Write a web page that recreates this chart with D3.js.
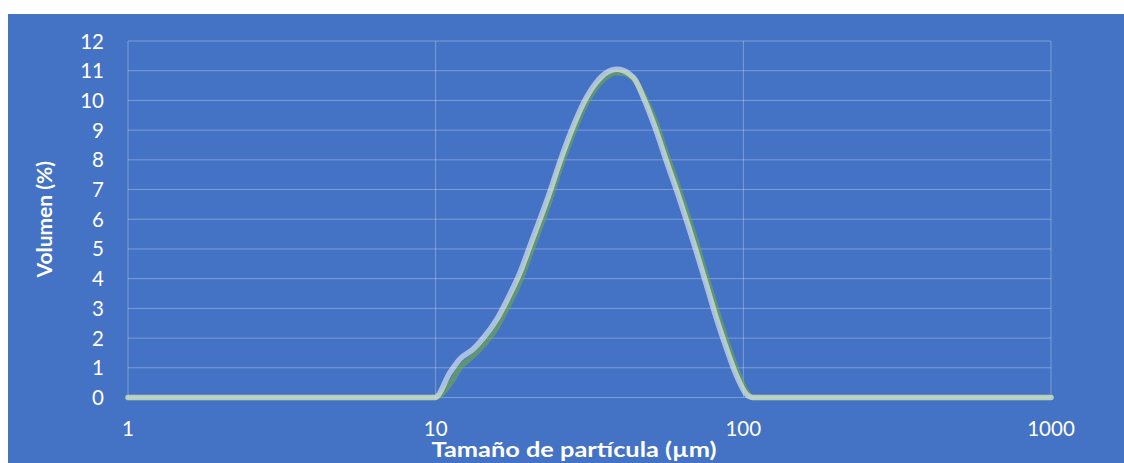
<!DOCTYPE html>
<html>
<head>
<meta charset="utf-8">
<script src="https://cdn.jsdelivr.net/npm/d3@7"></script>
<style>
  html, body { margin: 0; padding: 0; background: #fff; }
  svg { display: block; }
</style>
</head>
<body>
<svg width="1124" height="463"></svg>
<script>
// particle size (µm) and volume (%)
const sizes = [1, 5, 9.95, 11.13, 12.0, 13.25, 14.28, 15.79, 17.44, 18.79, 20.25, 23.52, 25.35, 27.67, 30.18,
    33.2, 34.45, 35.77, 37.13, 38.83, 40.62, 42.48, 44.43, 47.3, 51.6, 56.3, 61.4, 66.1, 70.5, 76.0, 81.9,
    88.3, 95.1, 102.5, 107.4, 200, 1000];
const lightSeries = [0, 0, 0, 0.84, 1.3, 1.63, 2.0, 2.63, 3.48, 4.2, 5.1, 6.93, 7.94, 9.0, 9.9,
    10.59, 10.78, 10.92, 11.01, 11.05, 11.01, 10.9, 10.71, 10.1, 9.1, 7.94, 6.82, 5.8, 4.88, 3.76, 2.64,
    1.63, 0.73, 0.1, 0, 0, 0];
const greenSeries = [0, 0, 0, 0.45, 1.0, 1.4, 1.75, 2.35, 3.2, 3.9, 4.8, 6.65, 7.7, 8.75, 9.7,
    10.42, 10.62, 10.78, 10.88, 10.93, 10.92, 10.84, 10.68, 10.2, 9.35, 8.2, 7.1, 6.1, 5.2, 4.05, 2.95,
    1.9, 0.95, 0.2, 0, 0, 0];
const xTicks = [1, 10, 100, 1000];
const yTicks = d3.range(0, 13);

const font = "Lato, Calibri, Carlito, 'Open Sans', sans-serif";
const svg = d3.select("svg");

svg.append("rect")
    .attr("x", 8).attr("y", 14)
    .attr("width", 1124 - 8).attr("height", 463 - 14)
    .attr("fill", "#4472C4");

const plotLeft = 128, plotRight = 1051, plotTop = 41, plotBottom = 397.5;

const x = d3.scaleLog().domain([1, 1000]).range([plotLeft, plotRight]);
const y = d3.scaleLinear().domain([0, 12]).range([plotBottom, plotTop]);

const grid = svg.append("g");
grid.selectAll(".hgrid")
    .data(yTicks)
    .enter().append("line")
    .attr("x1", plotLeft).attr("x2", plotRight)
    .attr("y1", d => y(d)).attr("y2", d => y(d))
    .attr("stroke", "#ffffff").attr("stroke-opacity", 0.3).attr("stroke-width", 1);
grid.selectAll(".vgrid")
    .data(xTicks)
    .enter().append("line")
    .attr("x1", d => x(d)).attr("x2", d => x(d))
    .attr("y1", plotTop).attr("y2", plotBottom)
    .attr("stroke", "#ffffff").attr("stroke-opacity", 0.3).attr("stroke-width", 1);

const line = (vals) => d3.line()
    .x((d, i) => x(sizes[i]))
    .y(d => y(d))
    .curve(d3.curveMonotoneX)(vals);

svg.append("path")
    .attr("d", line(greenSeries))
    .attr("fill", "none")
    .attr("stroke", "#70AD47").attr("stroke-opacity", 0.6)
    .attr("stroke-width", 5.5)
    .attr("stroke-linejoin", "round").attr("stroke-linecap", "round");

svg.append("path")
    .attr("d", line(lightSeries))
    .attr("fill", "none")
    .attr("stroke", "#ffffff").attr("stroke-opacity", 0.55)
    .attr("stroke-width", 5.5)
    .attr("stroke-linejoin", "round").attr("stroke-linecap", "round");

// tick labels
svg.append("g").selectAll("text")
    .data(yTicks)
    .enter().append("text")
    .attr("x", 104).attr("y", d => y(d) + 7.5)
    .attr("text-anchor", "end")
    .attr("fill", "#fff")
    .attr("font-family", font).attr("font-size", 20.5)
    .text(d => d);

svg.append("g").selectAll("text")
    .data(xTicks)
    .enter().append("text")
    .attr("x", d => x(d)).attr("y", 436)
    .attr("text-anchor", "middle")
    .attr("fill", "#fff")
    .attr("font-family", font).attr("font-size", 20.5)
    .text(d => d);

// axis titles
svg.append("text")
    .attr("transform", `translate(52,${(plotTop + plotBottom) / 2}) rotate(-90)`)
    .attr("text-anchor", "middle")
    .attr("fill", "#fff")
    .attr("font-family", font).attr("font-size", 21).attr("font-weight", "bold")
    .text("Volumen (%)");

svg.append("text")
    .attr("x", 574).attr("y", 457)
    .attr("text-anchor", "middle")
    .attr("textLength", 285).attr("lengthAdjust", "spacingAndGlyphs")
    .attr("fill", "#fff")
    .attr("font-family", font).attr("font-size", 20).attr("font-weight", "bold")
    .text("Tamaño de partícula (µm)");
</script>
</body>
</html>
